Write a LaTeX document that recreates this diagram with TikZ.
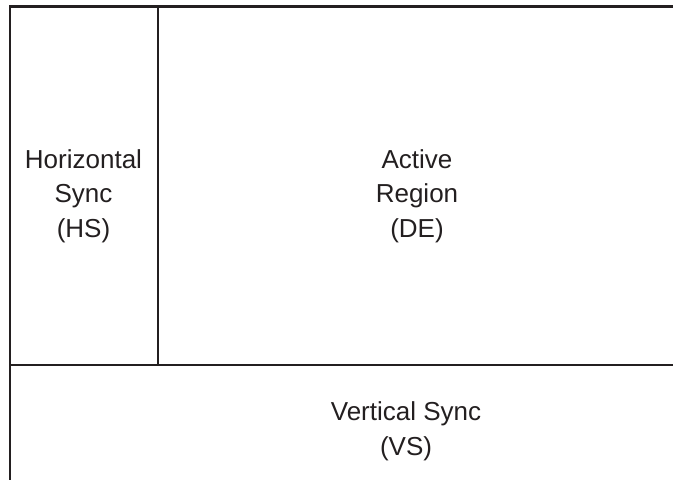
\documentclass[tikz,border=0pt]{standalone}
\usepackage{fontspec}
\setmainfont{Liberation Sans}
\definecolor{ink}{RGB}{35,31,32}
\begin{document}
\begin{tikzpicture}[x=1pt,y=-1pt,
  frame/.style={draw=ink,line width=2.2pt,line join=miter},
  label/.style={align=center,inner sep=0pt,text=ink,
    font=\fontsize{26}{34.5}\selectfont}]
\useasboundingbox (0,0) rectangle (673,480);
\draw[frame] (673,6.5) -- (10.3,6.5) -- (10.3,480);
\draw[frame] (158,6.5) -- (158,365.3);
\draw[frame] (10.3,365.3) -- (673,365.3);
\node[label] (hs) at (83.5,196) {Horizontal\\Sync\\(HS)};
\node[label] (de) at (417,196) {Active\\Region\\(DE)};
\node[label] (vs) at (406,431.5) {Vertical Sync\\(VS)};
\end{tikzpicture}
\end{document}
